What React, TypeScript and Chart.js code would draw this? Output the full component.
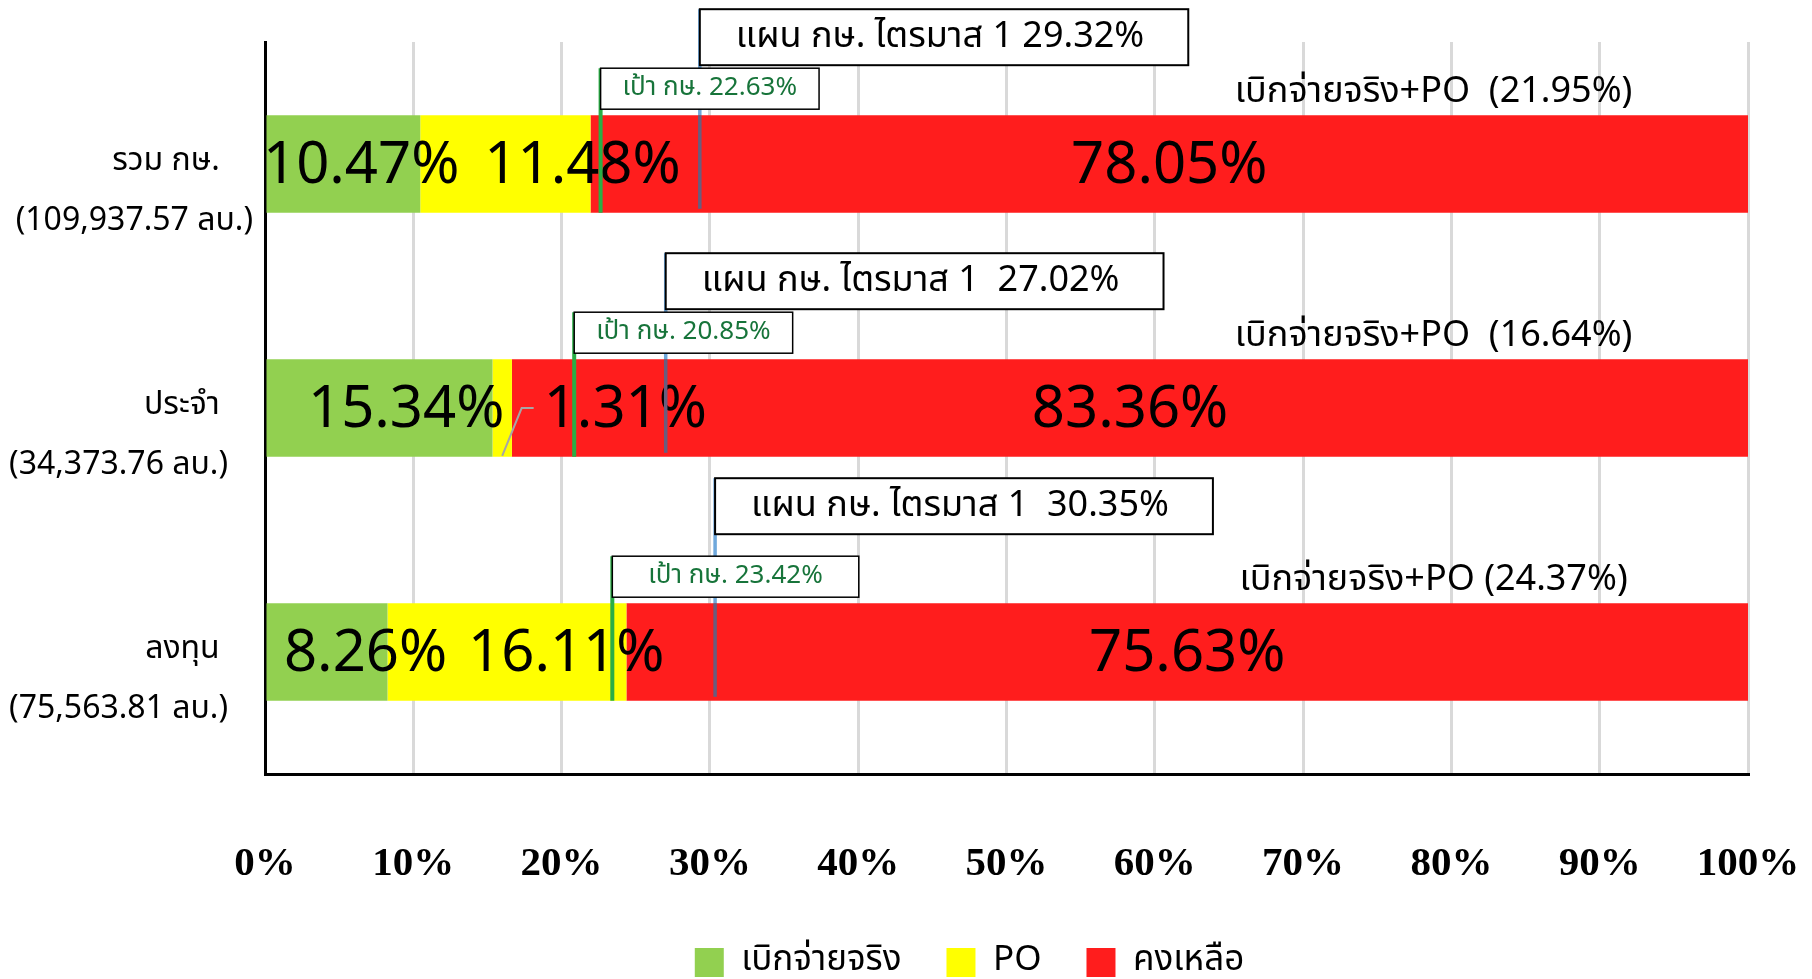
import React, { useEffect, useRef } from "react";
import { Chart, registerables } from "chart.js";

Chart.register(...registerables);

// ---------- data ----------
const categoryNames = ["รวม กษ.", "ประจำ", "ลงทุน"];
const budgetTexts = ["109,937.57", "34,373.76", "75,563.81"];
const disbursed = [10.47, 15.34, 8.26]; // เบิกจ่ายจริง
const purchaseOrders = [11.48, 1.31, 16.11]; // PO
const remaining = [78.05, 83.36, 75.63]; // คงเหลือ
const usedTotals = [21.95, 16.64, 24.37]; // เบิกจ่ายจริง+PO
const planQ1 = [29.32, 27.02, 30.35]; // แผน กษ. ไตรมาส 1
const targetMoa = [22.63, 20.85, 23.42]; // เป้า กษ.
const xTicks = [0, 10, 20, 30, 40, 50, 60, 70, 80, 90, 100];
const seriesNames = ["เบิกจ่ายจริง", "PO", "คงเหลือ"];

// ---------- style ----------
const FONT = '"Noto Sans Thai", "Noto Sans", "DejaVu Sans", sans-serif';
const COLORS = ["#92D050", "#FFFF00", "#FF1D1D"];
const labelShift = [
  [1.2, 1.8, 2.6],
  [5.2, 8.3, 4.0],
  [0, 0, 0],
];
const planSep = [" ", "  ", "  "];
const totalSep = ["  ", "  ", " "];
const planLift = [0, 0, 19];
const targetPad = [22, 22, 36];

const overlayPlugin = {
  id: "overlay",
  beforeDraw(chart: any) {
    const lg = chart.legend;
    const ca = chart.chartArea;
    if (lg && ca) {
      lg.left = ca.left - 74;
      lg.right = ca.right;
    }
  },
  afterDatasetsDraw(chart: any) {
    const ctx = chart.ctx;
    const xs = chart.scales.x;
    ctx.save();
    // segment labels
    chart.data.datasets.forEach((ds: any, di: number) => {
      const meta = chart.getDatasetMeta(di);
      meta.data.forEach((el: any, i: number) => {
        const p = el.getProps(["x", "base", "y", "height"], true);
        const start = Math.min(p.x, p.base);
        const end = Math.max(p.x, p.base);
        const cVal = (xs.getValueForPixel(start) + xs.getValueForPixel(end)) / 2;
        const cx = xs.getPixelForValue(cVal + labelShift[di][i]);
        const cy = p.y + 7;
        const txt = ds.data[i].toFixed(2) + "%";
        ctx.font = `58px ${FONT}`;
        ctx.fillStyle = "#000";
        ctx.textAlign = "center";
        ctx.textBaseline = "middle";
        ctx.fillText(txt, cx, cy);
        if (end - start < 40) {
          const w = ctx.measureText(txt).width;
          const left = cx - w / 2;
          ctx.strokeStyle = "#A6A6A6";
          ctx.lineWidth = 2;
          ctx.beginPath();
          ctx.moveTo((start + end) / 2, p.y + p.height / 2 - 1);
          ctx.lineTo(left - 22, cy - 7);
          ctx.lineTo(left - 10, cy - 7);
          ctx.stroke();
        }
      });
    });

    const bars = chart.getDatasetMeta(0).data;
    bars.forEach((el: any, i: number) => {
      const p = el.getProps(["y", "height"], true);
      const top = p.y - p.height / 2;
      const bottom = p.y + p.height / 2;
      const px = xs.getPixelForValue(planQ1[i]);
      const tx = xs.getPixelForValue(targetMoa[i]);
      const planTop = top - 106 - planLift[i];
      const planH = 56;
      const tgtTop = top - 47;
      const tgtH = 41;

      // plan line
      ctx.lineWidth = 3.5;
      ctx.strokeStyle = "#6FA8DC";
      ctx.beginPath();
      ctx.moveTo(px, planTop);
      ctx.lineTo(px, top);
      ctx.stroke();
      ctx.strokeStyle = "#6A5D7E";
      ctx.beginPath();
      ctx.moveTo(px, top);
      ctx.lineTo(px, bottom - 4);
      ctx.stroke();

      // target line
      ctx.lineWidth = 4;
      ctx.strokeStyle = "#2AAE45";
      ctx.beginPath();
      ctx.moveTo(tx, tgtTop);
      ctx.lineTo(tx, bottom);
      ctx.stroke();

      // plan box
      const planTxt = `แผน กษ. ไตรมาส 1${planSep[i]}${planQ1[i].toFixed(2)}%`;
      ctx.font = `36px ${FONT}`;
      const pw = ctx.measureText(planTxt).width + 80;
      ctx.fillStyle = "#fff";
      ctx.fillRect(px, planTop, pw, planH);
      ctx.lineWidth = 2;
      ctx.strokeStyle = "#000";
      ctx.strokeRect(px, planTop, pw, planH);
      ctx.fillStyle = "#000";
      ctx.textAlign = "left";
      ctx.textBaseline = "middle";
      ctx.fillText(planTxt, px + 36, planTop + planH / 2 + 3);

      // target box
      const tgtTxt = `เป้า กษ. ${targetMoa[i].toFixed(2)}%`;
      ctx.font = `26px ${FONT}`;
      const tw = ctx.measureText(tgtTxt).width + targetPad[i] * 2;
      ctx.fillStyle = "#fff";
      ctx.fillRect(tx, tgtTop, tw, tgtH);
      ctx.lineWidth = 1.5;
      ctx.strokeStyle = "#000";
      ctx.strokeRect(tx, tgtTop, tw, tgtH);
      ctx.fillStyle = "#17743A";
      ctx.fillText(tgtTxt, tx + targetPad[i], tgtTop + tgtH / 2 + 1);

      // total label
      const totTxt = `เบิกจ่ายจริง+PO${totalSep[i]}(${usedTotals[i].toFixed(2)}%)`;
      ctx.font = `36px ${FONT}`;
      ctx.fillStyle = "#000";
      ctx.textAlign = "center";
      ctx.fillText(totTxt, xs.getPixelForValue(78.8), top - 20);
    });
    ctx.restore();
  },
};

export default function App() {
  const ref = useRef<HTMLCanvasElement | null>(null);
  useEffect(() => {
    document.body.style.margin = "0";
    if (!ref.current) return;
    const labels = categoryNames.map((n, i) => [
      "",
      n + "    ",
      `(${budgetTexts[i]} ลบ.)` + (i === 0 ? "" : "   "),
    ]);
    const chart = new Chart(ref.current, {
      type: "bar",
      data: {
        labels,
        datasets: [
          { label: seriesNames[0], data: disbursed, backgroundColor: COLORS[0] },
          { label: seriesNames[1], data: purchaseOrders, backgroundColor: COLORS[1] },
          { label: seriesNames[2], data: remaining, backgroundColor: COLORS[2] },
        ],
      },
      options: {
        indexAxis: "y",
        responsive: false,
        animation: false,
        datasets: { bar: { categoryPercentage: 1, barPercentage: 0.4, borderWidth: 0 } },
        layout: { padding: { top: 42, right: 64, left: 0, bottom: -11 } },
        plugins: {
          tooltip: { enabled: false },
          legend: {
            position: "bottom",
            fullSize: false,
            labels: {
              boxWidth: 29,
              boxHeight: 29,
              padding: 45,
              color: "#000",
              font: { size: 35, family: FONT },
            },
          },
        },
        scales: {
          x: {
            stacked: true,
            min: 0,
            max: 100,
            afterBuildTicks: (s: any) => {
              s.ticks = xTicks.map((v) => ({ value: v }));
            },
            afterFit: (s: any) => {
              s.height = 126;
              s.paddingLeft = 0;
              s.paddingRight = 0;
            },
            ticks: {
              padding: 66,
              color: "#000",
              font: { family: '"Liberation Serif", "Times New Roman", serif', size: 41, weight: "bold" },
              callback: (v: any) => v + "%",
            },
            grid: { color: "#D9D9D9", lineWidth: 3, drawTicks: false },
            border: { display: true, color: "#000", width: 3 },
          },
          y: {
            stacked: true,
            afterFit: (s: any) => {
              s.width = 265;
              s.paddingTop = 0;
              s.paddingBottom = 0;
            },
            ticks: {
              padding: 12,
              color: "#000",
              font: { family: FONT, size: 32, lineHeight: 1.85 },
            },
            grid: { display: false, drawTicks: false },
            border: { display: true, color: "#000", width: 3 },
          },
        },
      },
      plugins: [overlayPlugin],
    } as any);
    return () => chart.destroy();
  }, []);
  return (
    <div style={{ width: 1812, height: 979 }}>
      <canvas ref={ref} width={1812} height={979} style={{ display: "block" }} />
    </div>
  );
}
